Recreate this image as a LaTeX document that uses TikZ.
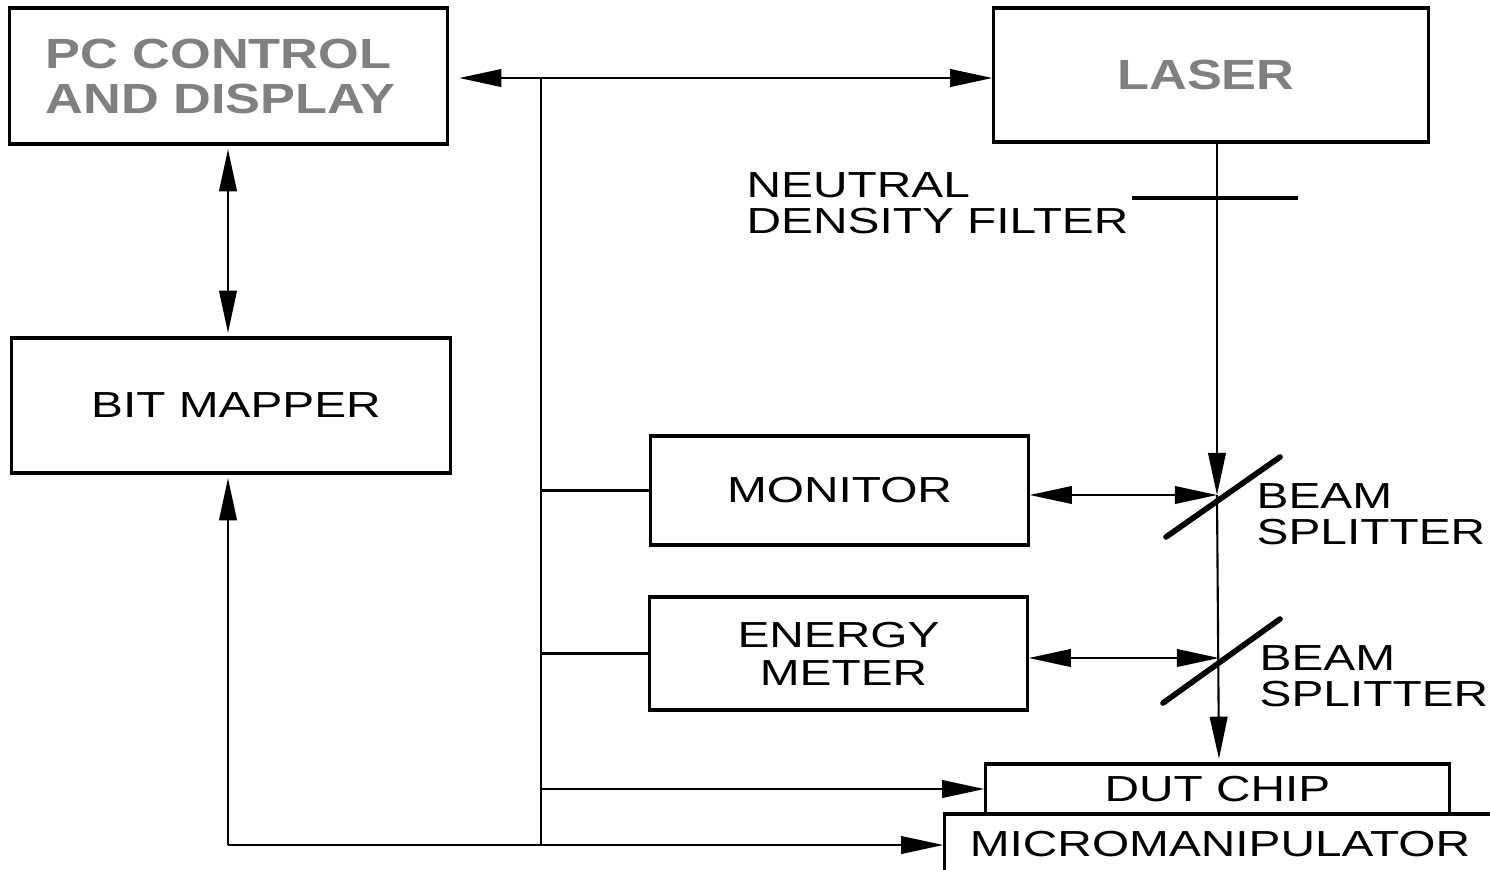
\documentclass[tikz,border=0pt]{standalone}
\usepackage{fontspec}
\setmainfont{Liberation Sans}[FakeStretch=1.32]
\newfontfamily\grayfont{Liberation Sans}[FakeStretch=1.24]
\usetikzlibrary{arrows.meta}
\begin{document}
\begin{tikzpicture}[x=0.01cm,y=-0.01cm,
  >={Triangle[length=12pt,width=5pt]},
  conn/.style={line width=0.6pt},
  blk/.style={draw,line width=0.9pt,inner sep=0pt,align=center,
    font=\fontsize{10.3}{10.8}\selectfont},
  gblk/.style={draw,line width=0.9pt,inner sep=0pt,align=left,text=black!50,
    font=\grayfont\bfseries\fontsize{12}{12.8}\selectfont},
  lbl/.style={inner sep=0pt,anchor=west,align=left,font=\fontsize{10.3}{10.4}\selectfont},
  mirror/.style={line width=1.6pt,line cap=round}]
\clip (0,0) rectangle (1490,869);
\fill[white] (0,0) rectangle (1490,869);
% blocks
\node[gblk,minimum width=4.37cm,minimum height=1.36cm] (pc) at (228.5,76) {PC CONTROL\hspace*{0.2cm}\\AND DISPLAY};
\node[gblk,minimum width=4.34cm,minimum height=1.34cm] (laser) at (1211,75) {LASER\hspace*{0.1cm}};
\node[blk,minimum width=4.38cm,minimum height=1.35cm] (bit) at (231,405.5) {\hspace*{0.1cm}BIT MAPPER};
\node[blk,minimum width=3.77cm,minimum height=1.09cm] (mon) at (839.5,490.5) {MONITOR};
\node[blk,minimum width=3.77cm,minimum height=1.13cm] (en) at (838.5,653.5) {ENERGY\\\hspace*{0.1cm}METER};
\node[blk,minimum width=4.63cm,minimum height=0.50cm] (dut) at (1217.5,789) {DUT CHIP};
\node[blk,minimum width=5.50cm,minimum height=0.61cm] (micro) at (1220,844.5) {MICROMANIPULATOR};
% labels
\node[lbl] (ndf) at (746,203) {NEUTRAL\\DENSITY FILTER};
\node[lbl] (bsl1) at (1256,514) {BEAM\\SPLITTER};
\node[lbl] (bsl2) at (1259,676) {BEAM\\SPLITTER};
% coordinates
\coordinate (bt) at (541,78);
\coordinate (bb) at (541,845);
\coordinate (bl) at (228,845);
\coordinate (bs1) at (1217,495);
\coordinate (bs2) at (1219,658);
% control bus
\draw[conn,<->,shorten <=3pt] (pc.east |- bt) -- (laser.west |- bt);
\draw[conn] (bt) -- (bb);
\draw[conn] (bt |- mon.west) -- (mon.west);
\draw[conn] (bt |- en.west) -- (en.west);
\draw[conn,->] (bt |- dut.west) -- (dut.west);
\draw[conn,->] (bl) -- (micro.west |- bl);
\draw[conn,->,shorten >=1pt] (bl) -- (bit.south -| bl);
\draw[conn,<->,shorten <=1pt,shorten >=1pt] (pc.south -| bl) -- (bit.north -| bl);
% optical path
\draw[conn,->] (laser.south -| bs1) -- (bs1);
\draw[conn,->,shorten >=1pt] (bs1) -- (dut.north -| bs2);
\draw[line width=1.2pt] (1132,198) -- (1298,198);
\draw[mirror] (1166,537) -- (1280,457);
\draw[mirror] (1163,703) -- (1280,619);
\draw[conn,<->] (mon.east |- bs1) -- (bs1);
\draw[conn,<->] (en.east |- bs2) -- (bs2);
\end{tikzpicture}
\end{document}
